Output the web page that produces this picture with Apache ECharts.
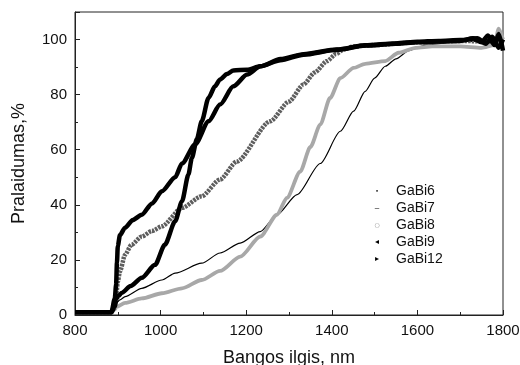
<!DOCTYPE html>
<html>
<head>
<meta charset="utf-8">
<script src="https://cdn.jsdelivr.net/npm/echarts@6/dist/echarts.min.js"></script>
<style>
  html, body { margin: 0; background: #fff; }
  #chart { width: 520px; height: 365px; }
</style>
</head>
<body>
<div id="chart"></div>
<script>
// --- data (wavelength nm, transmittance %) ---
const gabi6X = [800, 885, 893, 897, 905, 917, 956, 1003, 1034, 1096, 1139, 1186, 1233, 1272, 1319, 1373, 1420, 1451, 1478, 1500, 1525, 1550, 1580, 1620, 1700, 1800];
const gabi6Y = [1, 1, 3, 4.5, 5.5, 6.7, 9.7, 12.7, 15.2, 18.8, 22.5, 26.1, 30.3, 36.4, 43.7, 55, 66.7, 74, 81.2, 86, 90.3, 93, 96, 98, 99.3, 99.5];

const gabi7X = [800, 885, 893, 897, 900, 905, 917, 932, 956, 980, 1003, 1050, 1096, 1139, 1178, 1256, 1300, 1334, 1360, 1389, 1410, 1428, 1450, 1500, 1600, 1700, 1800];
const gabi7Y = [1, 1, 4, 8, 12, 15.8, 21.9, 25.5, 28.5, 30.5, 32.2, 38.9, 43.1, 49.2, 55.7, 70.3, 77.5, 83.7, 88, 92.2, 94.8, 96.4, 97.5, 98, 99, 99.5, 99];

const gabi8X = [800, 885, 893, 897, 917, 956, 1003, 1050, 1096, 1139, 1186, 1233, 1272, 1295, 1326, 1350, 1373, 1396, 1420, 1451, 1478, 1525, 1556, 1596, 1635, 1700, 1750, 1780, 1790, 1800];
const gabi8Y = [1, 1, 2, 3, 4.4, 6, 7.9, 9.7, 12.7, 16, 21.2, 28.5, 36.4, 42.5, 52, 61, 69.1, 78.8, 86, 89.7, 91.2, 92.2, 95.2, 97, 97.5, 97.5, 97, 98, 104, 100];

const gabi9X = [800, 885, 893, 897, 902, 909, 930, 956, 987, 1010, 1034, 1050, 1065, 1073, 1085, 1096, 1112, 1127, 1139, 1155, 1170, 1202, 1233, 1280, 1334, 1412, 1478, 1550, 1600, 1650, 1700, 1740, 1760, 1775, 1790, 1800];
const gabi9Y = [1, 1, 3, 6, 7, 8, 10.5, 13.5, 18.2, 25.5, 34, 41.3, 51, 57, 64, 70.3, 78.8, 83, 85.5, 87.5, 88.8, 89, 90.3, 92.9, 94.7, 96.4, 97.9, 98.6, 99.2, 99.5, 99.8, 100.5, 98.5, 101, 97, 100];

const gabi12X = [800, 885, 893, 896, 898, 900, 905, 917, 935, 956, 980, 1003, 1034, 1050, 1081, 1112, 1139, 1170, 1202, 1233, 1280, 1334, 1412, 1478, 1550, 1600, 1650, 1700, 1730, 1750, 1765, 1780, 1790, 1800];
const gabi12Y = [1, 1, 6, 11, 19, 25, 29, 31.7, 34.5, 36.4, 40.5, 44.9, 50, 55, 62, 70.3, 76.4, 83, 87.3, 90.3, 92.5, 94.5, 96.3, 97.8, 98.5, 99, 99.3, 99.5, 100.5, 99, 101.5, 98, 102, 96];

const seriesNames = ['GaBi6', 'GaBi7', 'GaBi8', 'GaBi9', 'GaBi12'];
const xTicks = [800, 1000, 1200, 1400, 1600, 1800];
const yTicks = [0, 20, 40, 60, 80, 100];

const pairs = (xs, ys) => xs.map((x, i) => [x, ys[i]]);
const FONT = "'Liberation Sans', Arial, sans-serif";

const chart = echarts.init(document.getElementById('chart'), null, { renderer: 'canvas' });

const lineSeries = (name, data, color, width, dash) => ({
    name: name,
    type: 'line',
    data: data,
    showSymbol: false,
    smooth: 0.25,
    smoothMonotone: 'x',
    itemStyle: { color: color },
    lineStyle: { color: color, width: width, type: dash || 'solid', cap: 'butt' },
    emphasis: { disabled: true },
    animation: false
});

// legend markers drawn as text glyphs (the real icons are hidden)
const marks = { GaBi6: 'm6', GaBi7: 'm7', GaBi8: 'm8', GaBi9: 'm9', GaBi12: 'm12' };
const glyphs = { GaBi6: '\u2022', GaBi7: '\u2013', GaBi8: '\u25CB', GaBi9: '\u25C2', GaBi12: '\u25B8' };
const markStyle = (size, color) => ({ width: 38, align: 'center', fontSize: size, color: color, fontFamily: 'DejaVu Sans', lineHeight: 14 });

chart.setOption({
    backgroundColor: '#fff',
    animation: false,
    grid: {
        left: 75, right: 17, top: 12, bottom: 50,
        outerBoundsMode: 'none',
        show: true, borderColor: '#222', borderWidth: 1, backgroundColor: 'transparent'
    },
    legend: {
        data: seriesNames.map(n => ({ name: n, icon: 'rect', itemStyle: { color: 'rgba(0,0,0,0)', borderWidth: 0, opacity: 0 } })),
        orient: 'vertical',
        left: 346,
        top: 179,
        itemGap: 3,
        itemWidth: 2,
        itemHeight: 2,
        itemStyle: { color: 'rgba(0,0,0,0)', borderWidth: 0, opacity: 0 },
        selectedMode: false,
        formatter: name => `{${marks[name]}|${glyphs[name]}}{t|${name}}`,
        textStyle: {
            rich: {
                m6: markStyle(6, '#000'),
                m7: markStyle(11, '#555'),
                m8: markStyle(6, '#888'),
                m9: markStyle(8, '#000'),
                m12: markStyle(8, '#000'),
                t: { fontSize: 14, color: '#111', fontFamily: FONT, lineHeight: 14 }
            }
        }
    },
    xAxis: {
        type: 'value',
        min: xTicks[0],
        max: xTicks[xTicks.length - 1],
        interval: 200,
        name: 'Bangos ilgis, nm',
        nameLocation: 'middle',
        nameGap: 34,
        nameTextStyle: { fontSize: 18, color: '#111', fontFamily: FONT },
        axisLine: { lineStyle: { color: '#222', width: 1 } },
        axisTick: { inside: true, length: 5, lineStyle: { color: '#222' } },
        minorTick: { show: true, splitNumber: 2, length: 3, lineStyle: { color: '#222' } },
        axisLabel: { fontSize: 15, color: '#111', fontFamily: FONT, margin: 8, formatter: v => String(v) },
        splitLine: { show: false }
    },
    yAxis: {
        type: 'value',
        min: 0,
        max: 110,
        interval: 20,
        name: 'Pralaidumas,%',
        nameLocation: 'middle',
        nameGap: 47,
        nameTextStyle: { fontSize: 18, color: '#111', fontFamily: FONT },
        axisLine: { show: true, lineStyle: { color: '#222', width: 1 } },
        axisTick: { show: true, inside: true, length: 5, lineStyle: { color: '#222' } },
        minorTick: { show: true, splitNumber: 2, length: 3, lineStyle: { color: '#222' } },
        axisLabel: {
            fontSize: 15, color: '#111', fontFamily: FONT, margin: 8,
            formatter: v => (yTicks.includes(v) ? String(v) : '')
        },
        splitLine: { show: false }
    },
    series: [
        lineSeries('GaBi6', pairs(gabi6X, gabi6Y), '#000', 1.2),
        lineSeries('GaBi7', pairs(gabi7X, gabi7Y), '#5e5e5e', 4.5, [2.5, 1]),
        lineSeries('GaBi8', pairs(gabi8X, gabi8Y), '#a8a8a8', 3.8),
        lineSeries('GaBi9', pairs(gabi9X, gabi9Y), '#000', 4.5),
        lineSeries('GaBi12', pairs(gabi12X, gabi12Y), '#000', 4.5)
    ]
});
</script>
</body>
</html>
